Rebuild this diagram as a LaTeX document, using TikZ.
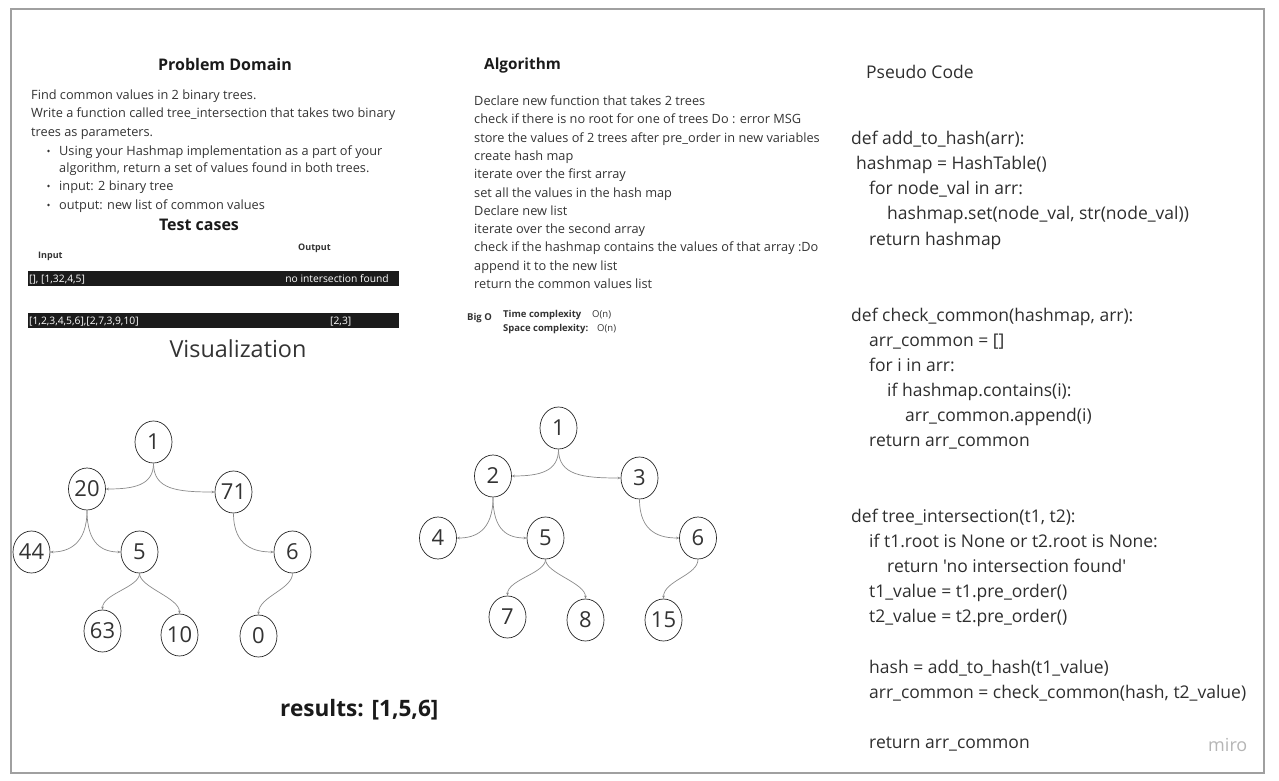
\documentclass[tikz,border=0pt]{standalone}
\usepackage{fontspec}
\setmainfont{Open Sans}
\newfontfamily\codefont{Open Sans}
\usetikzlibrary{shapes.geometric,arrows.meta}
\newcommand\fsz[1]{\fontsize{#1}{#1}\selectfont}
\definecolor{txtgray}{HTML}{333333}
\definecolor{titlec}{HTML}{1A1A1A}
\definecolor{codegray}{HTML}{2E2E2E}
\definecolor{numgray}{HTML}{333333}
\definecolor{conngray}{HTML}{8A8A8A}
\definecolor{framegray}{HTML}{A0A0A0}
\definecolor{barc}{HTML}{1B1B1B}
\definecolor{mirogray}{HTML}{B5B5B5}
\begin{document}
\begin{tikzpicture}[x=1pt,y=-1pt,
  txt/.style={anchor=base west, inner sep=0, font=\fsz{12.75}, text=txtgray},
  ttl/.style={anchor=base, inner sep=0, font=\fsz{16}\bfseries, text=titlec},
  code/.style={anchor=base west, inner sep=0, font=\codefont\fsz{17.5}, text=codegray},
  small/.style={anchor=base west, inner sep=0, font=\fsz{9}\bfseries, text=txtgray},
  bartxt/.style={anchor=base west, inner sep=0, font=\fsz{10.3}, text=white},
  tnode/.style={draw=black!85, ellipse, minimum width=37pt, minimum height=42pt, inner sep=0, font=\fsz{22}, text=numgray, line width=0.7pt},
  conn/.style={draw=conngray, line width=0.7pt, -{Stealth[length=3pt,width=2.6pt]}}]
\useasboundingbox (0,0) rectangle (1279,781);
\draw[framegray, line width=1.1pt] (11,9) rectangle (1264,773);

% Problem domain
\node[ttl] (pdt) at (225,71) {Problem Domain};
\node[txt] (pd1) at (31,99.5) {Find common values in 2 binary trees.};
\node[txt] (pd2) at (31,117.5) {Write a function called tree\_intersection that takes two binary};
\node[txt] (pd3) at (31,136.5) {trees as parameters.};
\node[txt] (pd4) at (59,155.5) {Using your Hashmap implementation as a part of your};
\node[txt] (pd5) at (59,172.5) {algorithm, return a set of values found in both trees.};
\node[txt] (pd6) at (59,190.5) {input: 2 binary tree};
\node[txt] (pd7) at (59,209.5) {output: new list of common values};
\fill[txtgray] (48.5,151) circle (1.3pt) (48.5,186) circle (1.3pt) (48.5,205) circle (1.3pt);

% Test cases
\node[ttl] (tct) at (199,230) {Test cases};
\node[small] (inl) at (38,258) {Input};
\node[small] (outl) at (298,250) {Output};
\fill[barc] (28,271) rectangle (399,286);
\fill[barc] (28,313) rectangle (399,328);
\node[bartxt] (b1a) at (29,282.5) {[], [1,32,4,5]};
\node[bartxt, anchor=base east] (b1b) at (389,282.5) {no intersection found};
\node[bartxt] (b2a) at (29,324.5) {[1,2,3,4,5,6],[2,7,3,9,10]};
\node[bartxt] (b2b) at (330,324.5) {[2,3]};
\node[anchor=base, inner sep=0, font=\fsz{23.4}, text=txtgray] (vis) at (238,357) {Visualization};

% Algorithm
\node[ttl, anchor=base west, font=\fsz{15.3}\bfseries] (alt) at (484,70) {Algorithm};
\foreach \t [count=\i] in {Declare new function that takes 2 trees,
  check if there is no root for one of trees Do : error MSG,
  store the values of 2 trees after pre\_order in new variables,
  create hash map, iterate over the first array, set all the values in the hash map,
  Declare new list, iterate over the second array,
  check if the hashmap contains the values of that array :Do,
  append it to the new list, return the common values list}
  \node[txt] (al\i) at (474,{105.5+18.3*(\i-1)}) {\t};

% Big O
\node[small, font=\fsz{9.5}\bfseries] (bigo) at (467,320.5) {Big O};
\node[small, font=\fsz{9.5}\bfseries] (tc) at (503,317.5) {Time complexity};
\node[small, font=\fsz{9.5}] (tcv) at (592,317.5) {O(n)};
\node[small, font=\fsz{9.5}\bfseries] (sc) at (503,331.5) {Space complexity:};
\node[small, font=\fsz{9.5}] (scv) at (597,331.5) {O(n)};

% Pseudo code
\node[code] (pct) at (866,78.5) {Pseudo Code};
\node[code] (c1) at (851,144.5) {def add\_to\_hash(arr):};
\node[code] (c2) at (856,169.5) {hashmap = HashTable()};
\node[code] (c3) at (869,194.5) {for node\_val in arr:};
\node[code] (c4) at (887,219.5) {hashmap.set(node\_val, str(node\_val))};
\node[code] (c5) at (869,245.5) {return hashmap};
\node[code] (c6) at (851,321.5) {def check\_common(hashmap, arr):};
\node[code] (c7) at (869,346.5) {arr\_common = []};
\node[code] (c8) at (869,371.5) {for i in arr:};
\node[code] (c9) at (887,396.5) {if hashmap.contains(i):};
\node[code] (c10) at (905,421.5) {arr\_common.append(i)};
\node[code] (c11) at (869,446.5) {return arr\_common};
\node[code] (c12) at (851,522.5) {def tree\_intersection(t1, t2):};
\node[code] (c13) at (869,547.5) {if t1.root is None or t2.root is None:};
\node[code] (c14) at (887,572.5) {return 'no intersection found'};
\node[code] (c15) at (869,597.5) {t1\_value = t1.pre\_order()};
\node[code] (c16) at (869,622.5) {t2\_value = t2.pre\_order()};
\node[code] (c17) at (869,673.5) {hash = add\_to\_hash(t1\_value)};
\node[code] (c18) at (869,698.5) {arr\_common = check\_common(hash, t2\_value)};
\node[code] (c19) at (869,748.5) {return arr\_common};

\node[anchor=base west, inner sep=0, font=\fsz{18}, text=mirogray] (miro) at (1208,751) {miro};

% results
\node[anchor=base west, inner sep=0, font=\fsz{22.6}\bfseries, text=titlec] (res) at (280,716) {results: [1,5,6]};

% Tree 1
\node[tnode] (a1) at (153.5,442) {1};
\node[tnode] (a20) at (87,489) {20};
\node[tnode] (a71) at (233.5,492) {71};
\node[tnode] (a44) at (31.5,552) {44};
\node[tnode] (a5) at (139.5,552) {5};
\node[tnode] (a6) at (292.5,552) {6};
\node[tnode] (a63) at (102.5,631) {63};
\node[tnode] (a10) at (179.5,635) {10};
\node[tnode] (a0) at (258.5,636) {0};
\draw[conn] (a1.south) .. controls +(0,22) and +(28,0) .. (a20.east);
\draw[conn] (a1.south) .. controls +(0,26) and +(-38,0) .. (a71.west);
\draw[conn] (a20.south) .. controls +(0,34) and +(18,0) .. (a44.east);
\draw[conn] (a20.south) .. controls +(0,34) and +(-18,0) .. (a5.west);
\draw[conn] (a71.south) .. controls +(0,34) and +(-18,0) .. (a6.west);
\draw[conn] (a5.south) .. controls +(0,14) and +(0,-16) .. (a63.north);
\draw[conn] (a5.south) .. controls +(0,14) and +(0,-16) .. (a10.north);
\draw[conn] (a6.south) .. controls +(0,16) and +(0,-18) .. (a0.north);

% Tree 2
\node[tnode] (b1) at (558.5,428) {1};
\node[tnode] (b2) at (493,476) {2};
\node[tnode] (b3) at (639.5,478) {3};
\node[tnode] (b4) at (438,538) {4};
\node[tnode] (b5) at (545.5,538) {5};
\node[tnode] (b6) at (698,538) {6};
\node[tnode] (b7) at (507.5,617) {7};
\node[tnode] (b8) at (585.5,620) {8};
\node[tnode] (b15) at (663.5,620) {15};
\draw[conn] (b1.south) .. controls +(0,22) and +(28,0) .. (b2.east);
\draw[conn] (b1.south) .. controls +(0,26) and +(-38,0) .. (b3.west);
\draw[conn] (b2.south) .. controls +(0,34) and +(18,0) .. (b4.east);
\draw[conn] (b2.south) .. controls +(0,34) and +(-18,0) .. (b5.west);
\draw[conn] (b3.south) .. controls +(0,34) and +(-18,0) .. (b6.west);
\draw[conn] (b5.south) .. controls +(0,14) and +(0,-16) .. (b7.north);
\draw[conn] (b5.south) .. controls +(0,14) and +(0,-16) .. (b8.north);
\draw[conn] (b6.south) .. controls +(0,16) and +(0,-18) .. (b15.north);
\end{tikzpicture}
\end{document}
